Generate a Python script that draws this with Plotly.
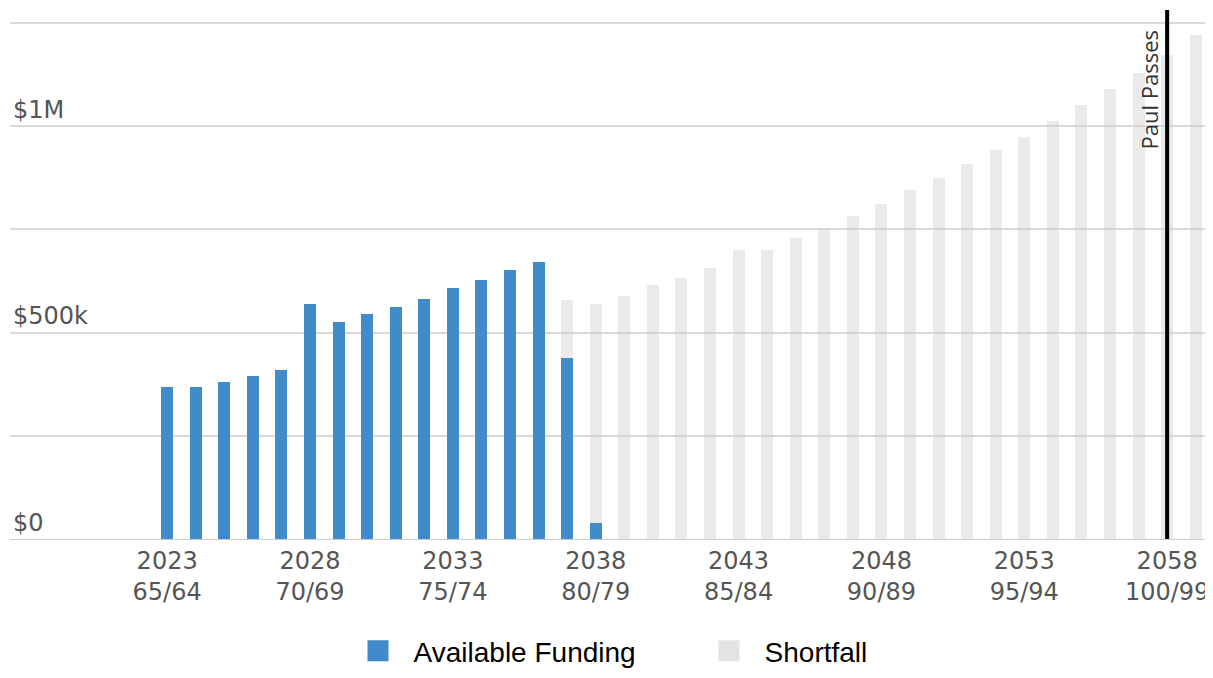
import plotly.graph_objects as go

years = list(range(2023, 2060))
available = [367000, 367000, 380000, 395000, 409000, 569000, 526000, 545000, 563000, 582000,
             607000, 626000, 651000, 670000, 439000, 38000] + [0] * 21
shortfall = [0] * 14 + [140000, 532000,
             589000, 614000, 632000, 656000, 700000, 700000, 729000, 752000, 781000, 811000,
             844000, 873000, 907000, 941000, 974000, 1013000, 1051000, 1090000, 1129000,
             1172000, 1220000]
tick_years = [2023, 2028, 2033, 2038, 2043, 2048, 2053, 2058]
tick_ages = ["65/64", "70/69", "75/74", "80/79", "85/84", "90/89", "95/94", "100/99"]
y_ticks = [0, 250000, 500000, 750000, 1000000, 1250000]
y_labels = ["$0", "", "$500k", "", "$1M", ""]
passes_year = 2058
passes_label = "Paul Passes"

BLUE = "#428bca"
GREY = "rgba(205,205,205,0.42)"
PAD = "\u00a0\u00a0"

fig = go.Figure()
fig.add_trace(go.Bar(x=years, y=available, name="Available Funding", marker_color=BLUE,
                     marker_line_width=0, showlegend=False))
fig.add_trace(go.Bar(x=years, y=shortfall, name="Shortfall", marker_color=GREY,
                     marker_line_width=0, showlegend=False))
fig.add_trace(go.Scatter(x=[None], y=[None], mode="markers", name=PAD + "Available Funding",
                         marker=dict(symbol="square", size=16, color=BLUE,
                                     line=dict(color=BLUE, width=5))))
fig.add_trace(go.Scatter(x=[None], y=[None], mode="markers", name=PAD + "Shortfall",
                         marker=dict(symbol="square", size=16, color="#e3e3e3",
                                     line=dict(color="#e3e3e3", width=5))))

fig.add_shape(type="line", xref="x", yref="paper", x0=passes_year, x1=passes_year,
              y0=0, y1=1, line=dict(color="black", width=4))
fig.add_annotation(x=passes_year, xref="x", y=0.85, yref="paper", yanchor="middle",
                   text=passes_label, textangle=-90, showarrow=False, xanchor="right",
                   xshift=-1, font=dict(family="Open Sans", size=22, color="#333333"))

fig.update_layout(
    width=1205, height=670, barmode="stack", bargap=0.58,
    margin=dict(l=2, r=3, t=2, b=135),
    plot_bgcolor="white", paper_bgcolor="white",
    legend=dict(orientation="h", x=0.29, xanchor="left", y=-0.212, yanchor="middle",
                font=dict(family="Liberation Sans, Arial", size=28, color="black"),
                entrywidth=306, traceorder="normal"),
    xaxis=dict(range=[2017.5, 2059.5], tickvals=tick_years,
               ticktext=[f"{y}<br>{a}" for y, a in zip(tick_years, tick_ages)],
               tickfont=dict(family="DejaVu Sans", size=24, color="#555555"),
               showgrid=False, showline=True, linecolor="#cccccc", linewidth=1,
               ticks="", zeroline=False, automargin=False),
    yaxis=dict(range=[0, 1281000], tickvals=y_ticks, ticktext=y_labels,
               ticklabelposition="inside top",
               tickfont=dict(family="DejaVu Sans", size=24, color="#555555"),
               showgrid=True, gridcolor="#d9d9d9", gridwidth=1.5, zeroline=False,
               ticks="", showline=False, automargin=False),
)

fig.write_html("out.html")
